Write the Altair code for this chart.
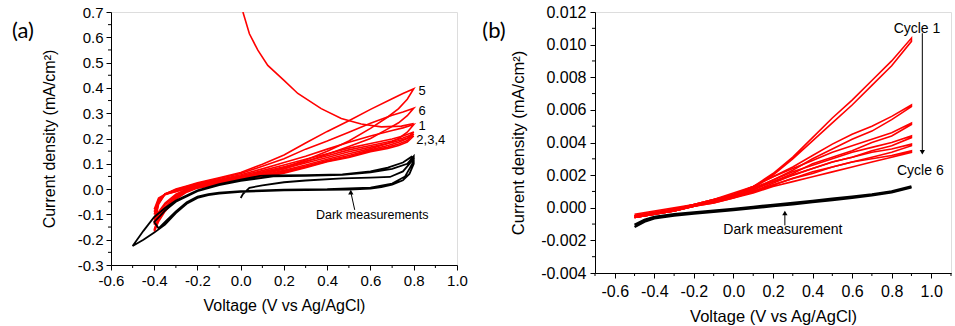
import altair as alt
import pandas as pd

RED = "#ff0000"
FONT = "Liberation Sans"

# ---------------- Panel (a) data ----------------
A_X_MAJOR = [-0.6, -0.4, -0.2, 0.0, 0.2, 0.4, 0.6, 0.8, 1.0]
A_X_MINOR = [-0.5, -0.3, -0.1, 0.1, 0.3, 0.5, 0.7, 0.9]
A_Y_MAJOR = [-0.3, -0.2, -0.1, 0.0, 0.1, 0.2, 0.3, 0.4, 0.5, 0.6, 0.7]
A_Y_MINOR = [-0.25, -0.15, -0.05, 0.05, 0.15, 0.25, 0.35, 0.45, 0.55, 0.65]

A_V_FWD = [-0.4, -0.38, -0.35, -0.3, -0.25, -0.2, -0.1, 0.0, 0.1, 0.2, 0.3, 0.4, 0.5, 0.6, 0.7, 0.75, 0.8]
A_V_REV = [0.8, 0.77, 0.73, 0.68, 0.6, 0.5, 0.4, 0.3, 0.2, 0.1, 0.0, -0.1, -0.2, -0.25, -0.3, -0.35, -0.38, -0.4]

A_CYC1_FWD = [-0.12, -0.05, -0.018, -0.004, 0.008, 0.02, 0.038, 0.057, 0.08, 0.105, 0.13, 0.158, 0.185, 0.21, 0.232, 0.242, 0.255]
A_CYC1_REV = [0.255, 0.225, 0.2, 0.18, 0.16, 0.14, 0.118, 0.095, 0.074, 0.055, 0.04, 0.024, 0.01, -0.004, -0.028, -0.07, -0.11, -0.16]
A_CYC2_FWD = [-0.1, -0.045, -0.02, -0.006, 0.006, 0.017, 0.035, 0.053, 0.073, 0.095, 0.118, 0.14, 0.162, 0.18, 0.198, 0.21, 0.226]
A_CYC2_REV = [0.226, 0.2, 0.185, 0.172, 0.155, 0.133, 0.113, 0.09, 0.07, 0.052, 0.038, 0.022, 0.008, -0.006, -0.032, -0.076, -0.118, -0.163]
A_CYC3_FWD = [-0.09, -0.04, -0.022, -0.008, 0.004, 0.015, 0.032, 0.05, 0.068, 0.088, 0.11, 0.132, 0.155, 0.172, 0.19, 0.202, 0.218]
A_CYC3_REV = [0.218, 0.192, 0.178, 0.166, 0.151, 0.128, 0.11, 0.087, 0.066, 0.049, 0.036, 0.02, 0.006, -0.009, -0.036, -0.082, -0.123, -0.165]
A_CYC4_FWD = [-0.08, -0.035, -0.02, -0.01, 0.002, 0.013, 0.03, 0.047, 0.064, 0.082, 0.103, 0.125, 0.148, 0.166, 0.184, 0.196, 0.21]
A_CYC4_REV = [0.21, 0.186, 0.172, 0.161, 0.148, 0.125, 0.108, 0.084, 0.063, 0.047, 0.036, 0.018, 0.004, -0.012, -0.04, -0.088, -0.128, -0.168]
A_CYC5_FWD = [-0.14, -0.06, -0.02, 0.0, 0.012, 0.025, 0.045, 0.066, 0.098, 0.135, 0.182, 0.228, 0.27, 0.315, 0.357, 0.378, 0.397]
A_CYC5_REV = [0.397, 0.355, 0.318, 0.285, 0.24, 0.19, 0.15, 0.115, 0.085, 0.062, 0.045, 0.028, 0.012, 0.0, -0.02, -0.055, -0.09, -0.13]
A_CYC6_FWD = [-0.13, -0.055, -0.02, -0.003, 0.01, 0.022, 0.042, 0.062, 0.09, 0.12, 0.158, 0.19, 0.225, 0.26, 0.292, 0.305, 0.32]
A_CYC6_REV = [0.32, 0.29, 0.262, 0.238, 0.2, 0.168, 0.138, 0.108, 0.08, 0.058, 0.042, 0.026, 0.01, -0.003, -0.025, -0.06, -0.1, -0.14]

# initial transient of the first illuminated scan
A_TRANS_V = [0.01, 0.04, 0.079, 0.125, 0.2, 0.264, 0.372, 0.465, 0.557, 0.65, 0.743, 0.8]
A_TRANS_I = [0.70, 0.614, 0.549, 0.489, 0.43, 0.378, 0.318, 0.279, 0.257, 0.246, 0.249, 0.259]

# dark measurement (black), one continuous path
A_DARK_V = [0.0, 0.01, 0.04, 0.1, 0.2, 0.3, 0.47, 0.6, 0.69, 0.75, 0.8,
            0.79, 0.75, 0.68, 0.6, 0.47, 0.3, 0.15, 0.09, 0.0, -0.1, -0.2, -0.3, -0.35, -0.4, -0.45, -0.5,
            -0.45, -0.4, -0.35, -0.3, -0.25, -0.2, -0.15, -0.1, 0.0, 0.1, 0.2, 0.3, 0.4, 0.5, 0.6, 0.65, 0.7, 0.75, 0.78, 0.8,
            0.8, 0.77, 0.7, 0.6, 0.47, 0.3, 0.15, 0.0, -0.1, -0.2, -0.3, -0.35, -0.4,
            -0.38, -0.35, -0.3, -0.25, -0.2, -0.15, -0.1, 0.0, 0.2, 0.4, 0.6, 0.7, 0.76, 0.8]
A_DARK_I = [-0.035, -0.02, 0.005, 0.015, 0.027, 0.034, 0.042, 0.045, 0.048, 0.07, 0.12,
            0.128, 0.105, 0.085, 0.07, 0.058, 0.055, 0.054, 0.052, 0.037, 0.02, -0.005, -0.045, -0.075, -0.11, -0.165, -0.225,
            -0.2, -0.172, -0.14, -0.095, -0.058, -0.035, -0.024, -0.018, -0.011, -0.008, -0.005, -0.004, -0.003, -0.002, 0.002, 0.008, 0.018, 0.035, 0.06, 0.1,
            0.13, 0.1, 0.08, 0.066, 0.056, 0.052, 0.05, 0.033, 0.016, -0.008, -0.05, -0.085, -0.13,
            -0.155, -0.13, -0.088, -0.052, -0.03, -0.02, -0.014, -0.008, -0.002, 0.0, 0.006, 0.022, 0.05, 0.11]

A_LABEL_TEXT = ["5", "6", "1", "2,3,4"]
A_LABEL_V = [0.822, 0.822, 0.822, 0.812]
A_LABEL_I = [0.389, 0.307, 0.25, 0.194]

A_NOTE_TEXT = ["Dark measurements"]
A_NOTE_V = [0.608]
A_NOTE_I = [-0.103]
A_ARROW_V = [0.527]
A_ARROW_I = [-0.082]
A_ARROW_V2 = [0.509]
A_ARROW_I2 = [-0.012]

# ---------------- Panel (b) data ----------------
B_X_MAJOR = [-0.6, -0.4, -0.2, 0.0, 0.2, 0.4, 0.6, 0.8, 1.0]
B_X_MINOR = [-0.7, -0.5, -0.3, -0.1, 0.1, 0.3, 0.5, 0.7, 0.9, 1.1]
B_Y_MAJOR = [-0.004, -0.002, 0.0, 0.002, 0.004, 0.006, 0.008, 0.010, 0.012]
B_Y_MINOR = [-0.003, -0.001, 0.001, 0.003, 0.005, 0.007, 0.009, 0.011]

B_V_FWD = [-0.5, -0.4, -0.3, -0.2, -0.1, 0.0, 0.1, 0.2, 0.3, 0.4, 0.5, 0.6, 0.7, 0.8, 0.9]
B_V_REV = [0.9, 0.8, 0.7, 0.6, 0.5, 0.4, 0.3, 0.2, 0.1, 0.0, -0.1, -0.2, -0.3, -0.4, -0.5]

B_CYC1_FWD = [-0.0004, -0.0002, 0.0, 0.0002, 0.0005, 0.0009, 0.0013, 0.0021, 0.0031, 0.0043, 0.0055, 0.0066, 0.0078, 0.009, 0.0104]
B_CYC1_REV = [0.0102, 0.0087, 0.0075, 0.0063, 0.0052, 0.0041, 0.003, 0.002, 0.0012, 0.0008, 0.0004, 0.0001, -0.0001, -0.0004, -0.0006]
B_CYC2_FWD = [-0.0005, -0.0003, -0.0001, 0.0002, 0.0005, 0.0008, 0.0013, 0.0019, 0.0025, 0.0032, 0.0039, 0.0045, 0.005, 0.0056, 0.0063]
B_CYC2_REV = [0.0062, 0.0054, 0.0047, 0.0042, 0.0036, 0.003, 0.0023, 0.0017, 0.0011, 0.0007, 0.0004, 0.0001, -0.0002, -0.0004, -0.0006]
B_CYC3_FWD = [-0.0005, -0.0003, -0.0001, 0.0002, 0.0005, 0.0008, 0.0013, 0.0019, 0.0024, 0.0029, 0.0034, 0.0038, 0.0042, 0.0046, 0.0052]
B_CYC3_REV = [0.0051, 0.0044, 0.004, 0.0035, 0.0031, 0.0027, 0.0021, 0.0016, 0.0011, 0.0007, 0.0004, 0.0001, -0.0002, -0.0004, -0.0006]
B_CYC4_FWD = [-0.0005, -0.0003, -0.0001, 0.0002, 0.0004, 0.0008, 0.0012, 0.0017, 0.0022, 0.0026, 0.003, 0.0034, 0.0037, 0.004, 0.0044]
B_CYC4_REV = [0.0043, 0.0038, 0.0035, 0.0031, 0.0028, 0.0024, 0.002, 0.0015, 0.001, 0.0007, 0.0004, 0.0001, -0.0002, -0.0004, -0.0006]
B_CYC5_FWD = [-0.0005, -0.0003, -0.0001, 0.0001, 0.0004, 0.0007, 0.0011, 0.0016, 0.002, 0.0024, 0.0028, 0.0031, 0.0034, 0.0036, 0.0039]
B_CYC5_REV = [0.0038, 0.0034, 0.0031, 0.0028, 0.0025, 0.0022, 0.0018, 0.0014, 0.001, 0.0006, 0.0003, 0.0001, -0.0002, -0.0004, -0.0006]
B_CYC6_FWD = [-0.0005, -0.0003, -0.0001, 0.0001, 0.0004, 0.0007, 0.001, 0.0014, 0.0018, 0.0021, 0.0025, 0.0028, 0.003, 0.0032, 0.0035]
B_CYC6_REV = [0.0034, 0.0031, 0.0028, 0.0025, 0.0022, 0.0019, 0.0016, 0.0013, 0.0009, 0.0006, 0.0003, 0.0001, -0.0002, -0.0004, -0.0006]

B_DARK_V_FWD = [-0.5, -0.45, -0.4, -0.3, -0.2, -0.1, 0.0, 0.1, 0.2, 0.3, 0.4, 0.5, 0.6, 0.7, 0.8, 0.9]
B_DARK_I_FWD = [-0.00118, -0.00085, -0.00065, -0.00048, -0.00036, -0.00025, -0.00014, -0.00002, 0.0001,
                0.00022, 0.00035, 0.00048, 0.00061, 0.00076, 0.00095, 0.00125]
B_DARK_V_REV = [0.9, 0.8, 0.7, 0.6, 0.5, 0.4, 0.3, 0.2, 0.1, 0.0, -0.1, -0.2, -0.3, -0.4, -0.45, -0.5]
B_DARK_I_REV = [0.0013, 0.001, 0.00082, 0.00068, 0.00055, 0.00042, 0.00029, 0.00017, 0.00005, -0.00007,
                -0.00018, -0.00029, -0.0004, -0.00056, -0.00075, -0.00105]

B_NOTE_TEXT = ["Cycle 1", "Cycle 6", "Dark measurement"]
B_NOTE_V = [0.928, 0.945, 0.25]
B_NOTE_I = [0.01096, 0.00223, -0.00135]
B_ARROW_V = [0.955, 0.26]
B_ARROW_I = [0.0107, -0.00108]
B_ARROW_V2 = [0.955, 0.26]
B_ARROW_I2 = [0.0034, -0.00032]
B_HEAD_SHAPE = ["triangle-down", "triangle-up"]

PANEL_TAGS = ["(a)", "(b)"]


# ---------------- helpers ----------------
def path_frame(cycles, v_fwd, v_rev):
    rows = []
    for name, (f, r) in cycles.items():
        k = 0
        for v, i in zip(v_fwd, f):
            rows.append({"series": name, "V": v, "I": i, "k": k})
            k += 1
        for v, i in zip(v_rev, r):
            rows.append({"series": name, "V": v, "I": i, "k": k})
            k += 1
    return pd.DataFrame(rows)


def simple_path(name, vs, is_):
    return pd.DataFrame({"series": name, "V": vs, "I": is_, "k": list(range(len(vs)))})


def x_axis(values, label_size, title_size, label_pad, title_pad):
    return alt.Axis(
        title="Voltage (V vs Ag/AgCl)", values=values, format=".1f",
        labelExpr="(datum.value < 0 ? '-' : '') + format(abs(datum.value), '.1f')",
        grid=False, ticks=True, tickColor="black", tickWidth=1, tickSize=5,
        labelOverlap=False, labelFlush=False,
        labelFont=FONT, labelFontSize=label_size, labelColor="black", labelPadding=label_pad,
        titleFont=FONT, titleFontSize=title_size, titleFontWeight="normal", titleColor="black",
        titlePadding=title_pad, domainColor="black", domainWidth=1,
    )


def y_axis(values, fmt, label_size, title_size, label_pad, title_pad):
    return alt.Axis(
        title="Current density (mA/cm²)", values=values, format=fmt, offset=0, labelAngle=0,
        labelExpr=f"(datum.value < 0 ? '-' : '') + format(abs(datum.value), '{fmt}')",
        grid=False, ticks=True, tickColor="black", tickWidth=1, tickSize=5,
        labelFont=FONT, labelFontSize=label_size, labelColor="black", labelPadding=label_pad,
        titleFont=FONT, titleFontSize=title_size, titleFontWeight="normal", titleColor="black",
        titlePadding=title_pad, domainColor="black", domainWidth=1,
    )


def panel(red_df, dark_df, dark_w, extra_red, xdom, ydom, xmaj, xmin, ymaj, ymin, fmt_y,
          label_size, title_size, xlab_pad, ylab_pad, xtitle_pad, ytitle_pad, w, h,
          labels_df, notes_df, note_size, arrows_df, tag, tag_x, tag_y):
    xs = alt.Scale(domain=xdom, nice=False, zero=False)
    ys = alt.Scale(domain=ydom, nice=False, zero=False)
    xa = x_axis(xmaj, label_size, title_size, xlab_pad, xtitle_pad)
    ya = y_axis(ymaj, fmt_y, label_size, title_size, ylab_pad, ytitle_pad)

    def XN(field="V"):
        return alt.X(f"{field}:Q", scale=xs, axis=xa)

    def YN(field="I"):
        return alt.Y(f"{field}:Q", scale=ys, axis=ya)

    layers = []
    layers.append(alt.Chart(red_df).mark_line(color=RED, strokeWidth=1.6, clip=True).encode(
        x=XN(), y=YN(), detail="series:N", order="k:Q"))
    # minor ticks, positioned through the same scales
    layers.append(alt.Chart(pd.DataFrame({"V": xmin})).mark_rule(color="black", strokeWidth=1, clip=False).encode(
        x=XN(), y=alt.value(h), y2=alt.value(h + 3)))
    layers.append(alt.Chart(pd.DataFrame({"I": ymin})).mark_rule(color="black", strokeWidth=1, clip=False).encode(
        y=YN(), x=alt.value(0), x2=alt.value(-3)))
    if extra_red is not None:
        layers.append(alt.Chart(extra_red).mark_line(color=RED, strokeWidth=1.6, clip=True).encode(
            x=XN(), y=YN(), detail="series:N", order="k:Q"))
    layers.append(alt.Chart(dark_df).mark_line(color="black", strokeWidth=dark_w, clip=True).encode(
        x=XN(), y=YN(), detail="series:N", order="k:Q"))
    if labels_df is not None:
        layers.append(alt.Chart(labels_df).mark_text(align="left", baseline="middle", font=FONT,
                                                     fontSize=13, color="black").encode(
            x=XN(), y=YN(), text="t:N"))
    layers.append(alt.Chart(notes_df).mark_text(align="center", baseline="middle", font=FONT,
                                                fontSize=note_size, color="black").encode(
        x=XN(), y=YN(), text="t:N"))
    layers.append(alt.Chart(arrows_df).mark_rule(color="black", strokeWidth=1).encode(
        x=XN(), y=YN(), x2="V2:Q", y2="I2:Q"))
    heads = arrows_df[["V2", "I2", "shape"]].rename(columns={"V2": "V", "I2": "I"})
    layers.append(alt.Chart(heads).mark_point(filled=True, color="black", size=28, opacity=1).encode(
        x=XN(), y=YN(), shape=alt.Shape("shape:N", scale=None, legend=None)))
    layers.append(alt.Chart(pd.DataFrame({"t": [tag]})).mark_text(
        align="center", baseline="middle", font="Lato", fontSize=22, color="black").encode(
        x=alt.value(tag_x), y=alt.value(tag_y), text="t:N"))
    return alt.layer(*layers).properties(width=w, height=h)


# ---------------- build panel (a) ----------------
a_red = path_frame({
    "c1": (A_CYC1_FWD, A_CYC1_REV), "c2": (A_CYC2_FWD, A_CYC2_REV),
    "c3": (A_CYC3_FWD, A_CYC3_REV), "c4": (A_CYC4_FWD, A_CYC4_REV),
    "c5": (A_CYC5_FWD, A_CYC5_REV), "c6": (A_CYC6_FWD, A_CYC6_REV)}, A_V_FWD, A_V_REV)
a_trans = simple_path("t", A_TRANS_V, A_TRANS_I)
a_dark = simple_path("d", A_DARK_V, A_DARK_I)
a_labels = pd.DataFrame({"t": A_LABEL_TEXT, "V": A_LABEL_V, "I": A_LABEL_I})
a_notes = pd.DataFrame({"t": A_NOTE_TEXT, "V": A_NOTE_V, "I": A_NOTE_I})
a_arrows = pd.DataFrame({"V": A_ARROW_V, "I": A_ARROW_I, "V2": A_ARROW_V2, "I2": A_ARROW_I2,
                         "shape": ["triangle-up"]})

chart_a = panel(a_red, a_dark, 1.8, a_trans, [-0.6, 1.0], [-0.3, 0.7],
                A_X_MAJOR, A_X_MINOR, A_Y_MAJOR, A_Y_MINOR, ".1f",
                15, 16, 3, 3, 9, 20, 346, 253,
                a_labels, a_notes, 12.5, a_arrows, PANEL_TAGS[0], -88, 19)

# ---------------- build panel (b) ----------------
b_red = path_frame({
    "c1": (B_CYC1_FWD, B_CYC1_REV), "c2": (B_CYC2_FWD, B_CYC2_REV),
    "c3": (B_CYC3_FWD, B_CYC3_REV), "c4": (B_CYC4_FWD, B_CYC4_REV),
    "c5": (B_CYC5_FWD, B_CYC5_REV), "c6": (B_CYC6_FWD, B_CYC6_REV)}, B_V_FWD, B_V_REV)
b_dark = pd.concat([simple_path("df", B_DARK_V_FWD, B_DARK_I_FWD),
                    simple_path("dr", B_DARK_V_REV, B_DARK_I_REV)], ignore_index=True)
b_notes = pd.DataFrame({"t": B_NOTE_TEXT, "V": B_NOTE_V, "I": B_NOTE_I})
b_arrows = pd.DataFrame({"V": B_ARROW_V, "I": B_ARROW_I, "V2": B_ARROW_V2, "I2": B_ARROW_I2,
                         "shape": B_HEAD_SHAPE})

chart_b = panel(b_red, b_dark, 2.5, None, [-0.7, 1.1], [-0.004, 0.012],
                B_X_MAJOR, B_X_MINOR, B_Y_MAJOR, B_Y_MINOR, ".3f",
                16, 16.5, 5, 4, 9, 14, 356, 261,
                None, b_notes, 14, b_arrows, PANEL_TAGS[1], -101, 19)

chart = alt.hconcat(chart_a, chart_b, spacing=13).properties(
    padding={"left": 11, "top": 3, "right": 0, "bottom": 0}
).configure_view(stroke="black", strokeWidth=1).configure(background="white")

chart.save("out.html", embed_options={"renderer": "svg", "actions": False})
